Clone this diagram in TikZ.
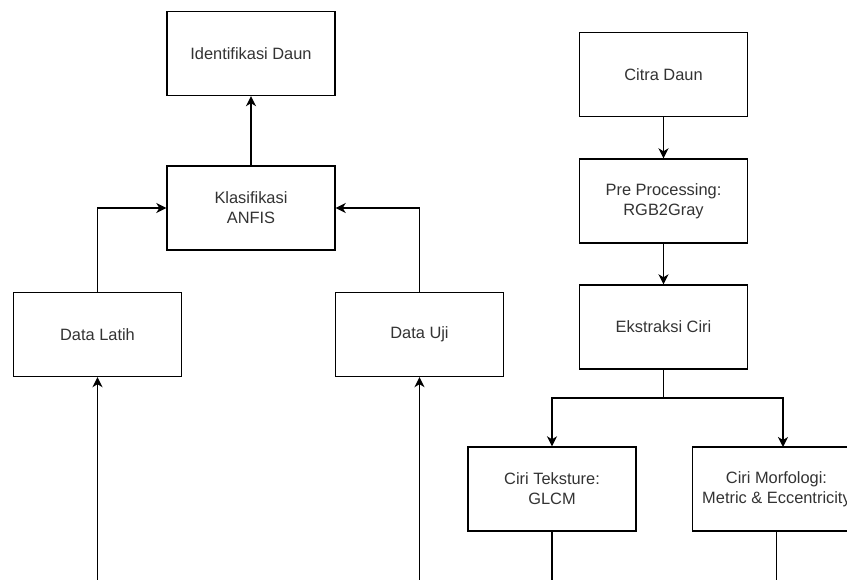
\documentclass[tikz,border=0pt]{standalone}
\usepackage{fontspec}
\setmainfont{Liberation Sans}
\usetikzlibrary{arrows.meta}
\definecolor{txt}{HTML}{333333}
\begin{document}
\begin{tikzpicture}[x=1pt,y=1pt,
  boxst/.style={draw=black, line width=1.4pt, fill=white, minimum width=168pt, minimum height=84pt,
    align=center, font=\fontsize{16.4}{20}\selectfont, text=txt, inner sep=0pt},
  conn/.style={line width=1.4pt, draw=black},
  arr/.style={conn, -{Stealth[length=10pt,width=10pt,inset=3pt]}}]
\useasboundingbox (0,0) rectangle (847,-580);
\node[boxst] (iden) at (251,-53.5) {Identifikasi Daun};
\node[boxst] (klas) at (251,-208) {Klasifikasi\\ANFIS};
\node[boxst] (latih) at (97.5,-334.5) {Data Latih};
\node[boxst] (uji) at (419.5,-334.5) {Data Uji};
\node[boxst] (citra) at (663.5,-74.5) {Citra Daun};
\node[boxst] (pre) at (663.5,-201) {Pre Processing:\\RGB2Gray};
\node[boxst] (eks) at (663.5,-327) {Ekstraksi Ciri};
\node[boxst] (tex) at (552,-489) {Ciri Teksture:\\GLCM};
\node[boxst] (morf) at (776.5,-489) {Ciri Morfologi:\\Metric \& Eccentricity};
\coordinate (inL) at (97.5,-600);
\coordinate (inU) at (419.5,-600);
\coordinate (outT) at (552,-600);
\coordinate (outM) at (776.5,-600);
\coordinate (split) at (663.5,-398);
\coordinate (morfin) at (783,-447);
\draw[arr] (klas) -- (iden);
\draw[arr] (latih.north) |- (klas.west);
\draw[arr] (uji.north) |- (klas.east);
\draw[arr] (inL) -- (latih.south);
\draw[arr] (inU) -- (uji.south);
\draw[arr] (citra) -- (pre);
\draw[arr] (pre) -- (eks);
\draw[conn] (eks.south) -- (split);
\draw[arr] (split) -| (tex.north);
\draw[arr] (split) -| (morfin);
\draw[conn] (tex.south) -- (outT);
\draw[conn] (morf.south) -- (outM);
\end{tikzpicture}
\end{document}
